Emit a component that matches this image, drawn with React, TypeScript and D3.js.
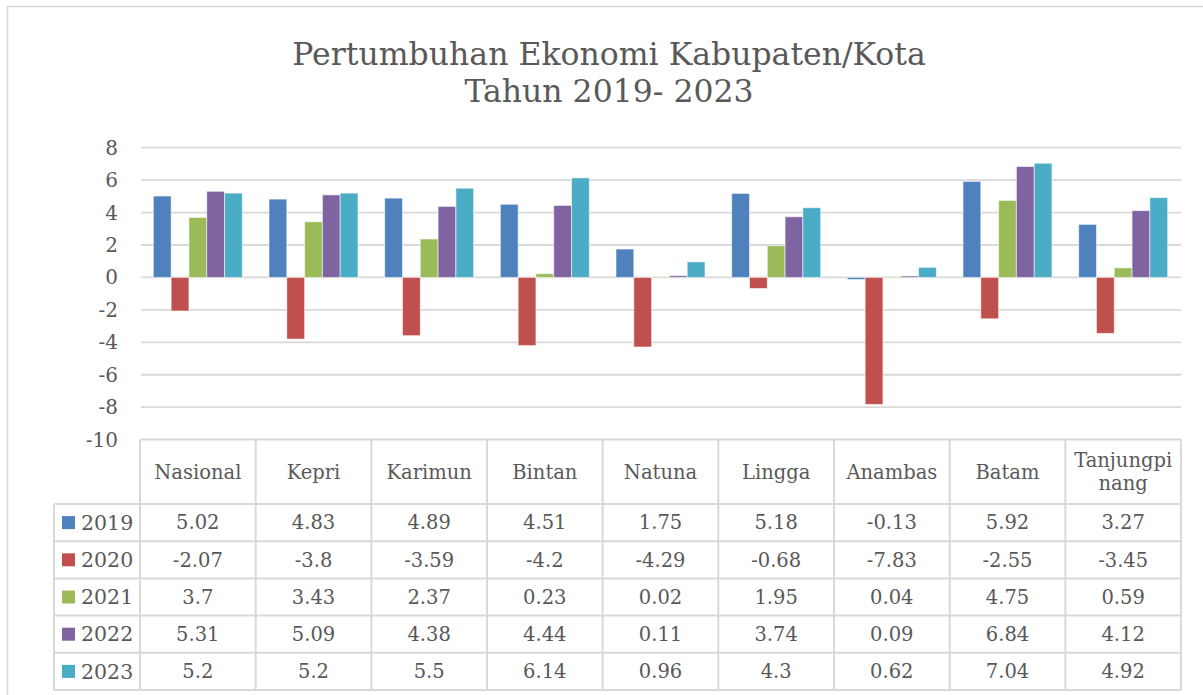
import React from "react";
import * as d3 from "d3";

const categories = ["Nasional", "Kepri", "Karimun", "Bintan", "Natuna", "Lingga", "Anambas", "Batam", "Tanjungpinang"];
const categoryLabels = [["Nasional"], ["Kepri"], ["Karimun"], ["Bintan"], ["Natuna"], ["Lingga"], ["Anambas"], ["Batam"], ["Tanjungpi", "nang"]];
const seriesNames = ["2019", "2020", "2021", "2022", "2023"];
const v2019 = [5.02, 4.83, 4.89, 4.51, 1.75, 5.18, -0.13, 5.92, 3.27];
const v2020 = [-2.07, -3.8, -3.59, -4.2, -4.29, -0.68, -7.83, -2.55, -3.45];
const v2021 = [3.7, 3.43, 2.37, 0.23, 0.02, 1.95, 0.04, 4.75, 0.59];
const v2022 = [5.31, 5.09, 4.38, 4.44, 0.11, 3.74, 0.09, 6.84, 4.12];
const v2023 = [5.2, 5.2, 5.5, 6.14, 0.96, 4.3, 0.62, 7.04, 4.92];
const seriesValues = [v2019, v2020, v2021, v2022, v2023];
const colors = ["#4F81BD", "#C0504D", "#9BBB59", "#8064A2", "#4BACC6"];
const yTicks = [8, 6, 4, 2, 0, -2, -4, -6, -8, -10];
const titleLines = ["Pertumbuhan Ekonomi Kabupaten/Kota", "Tahun 2019- 2023"];

const W = 1203;
const H = 695;
const FONT = "'DejaVu Serif', serif";
const TEXT = "#595959";
const GRID = "#D9D9D9";

export default function App() {
  const plotLeft = 140;
  const plotRight = 1181;
  const y = d3.scaleLinear().domain([-10, 8]).range([439.6, 147.7]);
  const x = d3.scaleBand<string>().domain(categories).range([plotLeft, plotRight]).padding(0);
  const xs = d3.scaleBand<string>().domain(seriesNames).range([0, x.bandwidth()]).paddingInner(0).paddingOuter(0.75);

  const tableTop = y(-10);
  const headerBottom = 504;
  const rowH = 37.2;
  const tableLeft = 54;
  const rowYs = seriesNames.map((_, i) => headerBottom + i * rowH);
  const tableBottom = headerBottom + seriesNames.length * rowH;

  return (
    <svg width={W} height={H} style={{ position: "absolute", left: 0, top: 0, background: "#fff" }} fontFamily={FONT}>
      <rect x={0} y={0} width={W} height={H} fill="#fff" />
      <rect x={7.5} y={6.5} width={1400} height={800} fill="none" stroke={GRID} strokeWidth={1.5} />

      {titleLines.map((t, i) => (
        <text key={t} x={609} y={65 + i * 37} textAnchor="middle" fontSize={31.5} fill={TEXT}>{t}</text>
      ))}

      {yTicks.filter((t) => t > -10).map((t) => (
        <line key={"g" + t} x1={plotLeft + 1} x2={plotRight} y1={y(t)} y2={y(t)} stroke={GRID} strokeWidth={1.8} />
      ))}
      {yTicks.map((t) => (
        <text key={"yt" + t} x={118} y={y(t)} dy="0.35em" textAnchor="end" fontSize={20} fill={TEXT}>{t}</text>
      ))}

      {seriesNames.map((s, si) =>
        categories.map((c, ci) => {
          const v = seriesValues[si][ci];
          const x0 = (x(c) ?? 0) + (xs(s) ?? 0);
          const y0 = y(Math.max(0, v));
          const h = Math.abs(y(v) - y(0));
          return (
            <rect key={s + c} x={x0} y={y0} width={xs.bandwidth()} height={Math.max(h, 0.8)} fill={colors[si]} stroke="#fff" strokeOpacity={0.55} strokeWidth={1} />
          );
        })
      )}

      {/* table */}
      <g stroke={GRID} strokeWidth={2} fill="none">
        <line x1={plotLeft} x2={plotRight} y1={tableTop} y2={tableTop} />
        {[headerBottom, ...rowYs.slice(1), tableBottom].map((yy) => (
          <line key={"h" + yy} x1={tableLeft} x2={plotRight} y1={yy} y2={yy} />
        ))}
        <line x1={tableLeft} x2={tableLeft} y1={headerBottom} y2={tableBottom} />
        {categories.map((c) => (
          <line key={"v" + c} x1={x(c)} x2={x(c)} y1={tableTop} y2={tableBottom} />
        ))}
        <line x1={plotRight} x2={plotRight} y1={tableTop} y2={tableBottom} />
      </g>

      {categoryLabels.map((lines, ci) => {
        const cx = (x(categories[ci]) ?? 0) + x.bandwidth() / 2;
        const mid = (tableTop + headerBottom) / 2;
        return lines.map((l, li) => (
          <text key={"cl" + ci + li} x={cx} y={mid + (li - (lines.length - 1) / 2) * 23} dy="0.35em" textAnchor="middle" fontSize={19.5} fill={TEXT}>{l}</text>
        ));
      })}

      {seriesNames.map((s, si) => {
        const cy = rowYs[si] + rowH / 2;
        return (
          <g key={"row" + s}>
            <rect x={62} y={cy - 6.5} width={13} height={13} fill={colors[si]} />
            <text x={81} y={cy} dy="0.35em" fontSize={20.5} fill={TEXT}>{s}</text>
            {categories.map((c, ci) => (
              <text key={"cv" + c} x={(x(c) ?? 0) + x.bandwidth() / 2} y={cy} dy="0.35em" textAnchor="middle" fontSize={19.5} fill={TEXT}>
                {String(seriesValues[si][ci])}
              </text>
            ))}
          </g>
        );
      })}
    </svg>
  );
}
